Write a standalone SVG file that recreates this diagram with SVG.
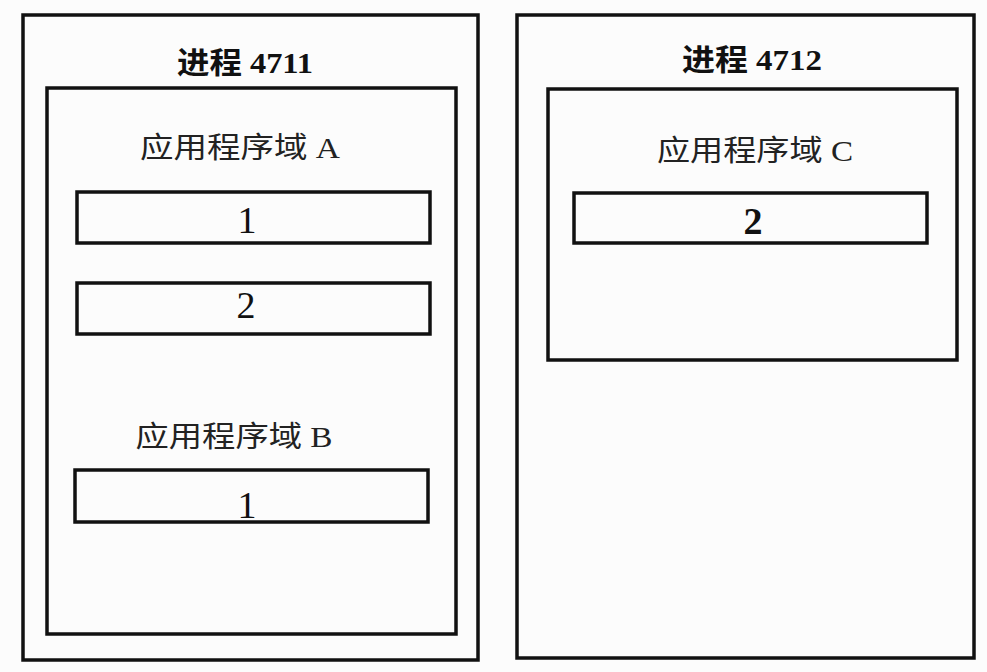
<svg xmlns="http://www.w3.org/2000/svg" width="987" height="672" viewBox="0 0 987 672">
<style>
.box{fill:none;stroke:#111;stroke-width:3.5}
.title{font-family:"Liberation Serif","Noto Sans CJK SC",serif;font-weight:bold;font-size:30px;fill:#111;text-anchor:middle}
.lbl{font-family:"Liberation Serif","Noto Sans CJK SC",serif;font-size:29px;fill:#222;text-anchor:middle}
.num{font-family:"Liberation Serif",serif;font-size:38px;fill:#111;text-anchor:middle}
</style>
<rect width="987" height="672" fill="#fcfcfc"/>
<g id="process4711">
<rect class="box" x="23" y="15" width="455" height="645"/>
<text class="title" x="245" y="73" textLength="136" lengthAdjust="spacingAndGlyphs">进程 4711</text>
</g>
<g id="domainAB">
<rect class="box" x="47" y="88" width="409" height="546"/>
<text class="lbl" x="240" y="158" textLength="200" lengthAdjust="spacingAndGlyphs">应用程序域 A</text>
<text class="lbl" x="234" y="447" textLength="197" lengthAdjust="spacingAndGlyphs">应用程序域 B</text>
</g>
<g id="a1">
<rect class="box" x="77" y="192" width="353" height="51"/>
<text class="num" x="247" y="233">1</text>
</g>
<g id="a2">
<rect class="box" x="77" y="283" width="353" height="51"/>
<text class="num" x="246" y="318">2</text>
</g>
<g id="b1">
<rect class="box" x="75" y="470" width="353" height="52"/>
<text class="num" x="247" y="518">1</text>
</g>
<g id="process4712">
<rect class="box" x="517" y="15" width="457" height="643"/>
<text class="title" x="752" y="70" textLength="140" lengthAdjust="spacingAndGlyphs">进程 4712</text>
</g>
<g id="domainC">
<rect class="box" x="548" y="89" width="409" height="271"/>
<text class="lbl" x="755" y="161" textLength="196" lengthAdjust="spacingAndGlyphs">应用程序域 C</text>
</g>
<g id="c2">
<rect class="box" x="574" y="193" width="353" height="50"/>
<text class="num" x="753" y="234" font-weight="bold">2</text>
</g>
<g id="connectors"/>
</svg>
